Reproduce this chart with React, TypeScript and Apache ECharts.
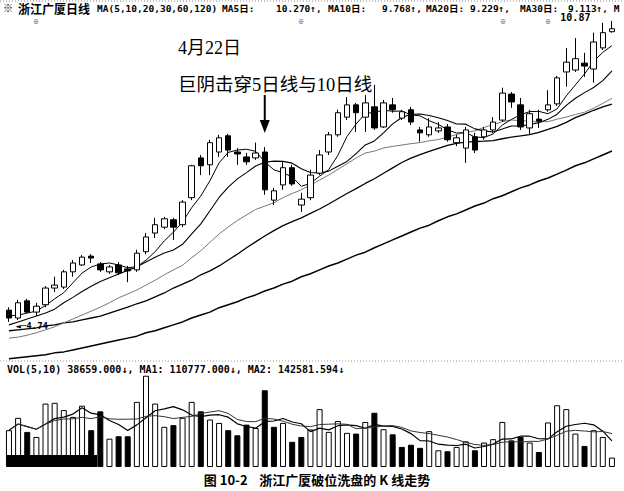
import React, { useEffect, useRef } from "react";
import * as echarts from "echarts";

// candles (price units)
const opens = [
  4.98, 4.82, 5.17, 4.94, 5.09, 5.43, 5.45, 5.76, 5.9, 6.08,
  5.92, 5.76, 5.9, 5.82, 5.8, 6.17, 6.55, 6.67, 6.82, 6.72,
  7.27, 8.08, 7.94, 8.2, 8.53, 8.2, 8.1, 8.08, 8.2, 7.22,
  7.53, 7.88, 7.12, 7.27, 7.77, 8.2, 8.55, 8.91, 9.16, 8.91,
  9.12, 8.71, 9.16, 8.89, 9.06, 8.65, 8.55, 8.63, 8.71, 8.39,
  8.28, 8.51, 8.51, 8.65, 8.85, 9.38, 9.16, 8.69, 8.87, 9.06,
  9.18, 9.83, 9.87, 10.01, 9.89, 10.32, 10.65,
];
const closes = [
  4.82, 5.13, 4.94, 5.06, 5.43, 5.49, 5.76, 5.94, 6.06, 6.04,
  5.8, 5.86, 5.74, 5.78, 6.14, 6.47, 6.72, 6.84, 6.67, 7.18,
  7.92, 7.92, 8.39, 8.49, 8.24, 8.16, 8.0, 8.18, 7.43, 7.41,
  7.88, 7.55, 7.24, 7.73, 8.14, 8.55, 9.0, 9.16, 9.0, 9.2,
  8.69, 9.2, 9.06, 9.02, 8.81, 8.59, 8.71, 8.69, 8.45, 8.49,
  8.65, 8.24, 8.65, 8.81, 9.4, 9.22, 8.71, 8.98, 8.83, 9.16,
  9.71, 10.03, 10.1, 9.95, 10.44, 10.63, 10.71,
];
const lows = [
  4.74, 4.78, 4.92, 4.86, 5.04, 5.35, 5.41, 5.66, 5.88, 5.94,
  5.76, 5.72, 5.7, 5.55, 5.76, 6.12, 6.45, 6.63, 6.41, 6.67,
  7.22, 7.73, 7.73, 8.1, 8.1, 7.94, 7.94, 8.04, 7.33, 7.12,
  7.43, 7.51, 6.98, 7.22, 7.73, 8.14, 8.51, 8.85, 8.61, 8.61,
  8.65, 8.69, 9.0, 8.85, 8.75, 8.41, 8.51, 8.59, 8.41, 8.32,
  7.98, 8.18, 8.45, 8.59, 8.81, 9.1, 8.65, 8.55, 8.69, 9.02,
  9.14, 9.53, 9.83, 9.73, 9.61, 10.28, 10.63,
];
const highs = [
  5.04, 5.19, 5.21, 5.13, 5.47, 5.66, 5.8, 6.0, 6.1, 6.12,
  5.96, 5.9, 5.96, 5.88, 6.21, 6.55, 6.86, 6.88, 6.86, 7.22,
  7.94, 8.14, 8.45, 8.55, 8.57, 8.28, 8.18, 8.39, 8.3, 7.47,
  8.0, 7.94, 7.37, 7.84, 8.24, 8.61, 9.06, 9.32, 9.2, 9.36,
  9.57, 9.26, 9.3, 9.06, 9.12, 8.71, 8.89, 8.81, 8.77, 8.55,
  8.71, 8.59, 8.71, 8.91, 9.51, 9.42, 9.3, 9.06, 9.06, 9.46,
  9.75, 10.32, 10.52, 10.22, 10.63, 10.83, 10.87,
];

// moving-average values where the window reaches before the first candle
const ma5Head = [4.86, 4.88, 4.92, 4.96];
const ma10Head = [4.68, 4.74, 4.8, 4.86, 4.92, 5.0, 5.13, 5.24, 5.36];
const ma20Head = [
  4.41, 4.43, 4.47, 4.52, 4.58, 4.64, 4.72, 4.8, 4.88, 4.96,
  5.04, 5.13, 5.23, 5.31, 5.39, 5.49, 5.59, 5.7, 5.8,
];
const ma30Head = [
  4.56, 4.58, 4.6, 4.62, 4.66, 4.68, 4.72, 4.74, 4.78, 4.82,
  4.86, 4.92, 4.98, 5.04, 5.11, 5.17, 5.25, 5.33, 5.43, 5.51,
  5.59, 5.7, 5.78, 5.88, 6.0, 6.12, 6.25, 6.37, 6.49,
];
const ma60 = [
  3.99, 4.01, 4.03, 4.05, 4.07, 4.11, 4.13, 4.17, 4.21, 4.25,
  4.29, 4.33, 4.37, 4.41, 4.45, 4.52, 4.56, 4.62, 4.68, 4.74,
  4.82, 4.88, 4.94, 5.03, 5.09, 5.15, 5.23, 5.29, 5.37, 5.43,
  5.51, 5.57, 5.66, 5.72, 5.8, 5.88, 5.94, 6.02, 6.1, 6.16,
  6.25, 6.33, 6.41, 6.49, 6.57, 6.65, 6.71, 6.8, 6.88, 6.94,
  7.02, 7.1, 7.16, 7.25, 7.31, 7.39, 7.47, 7.53, 7.61, 7.67,
  7.75, 7.83, 7.92, 7.98, 8.06, 8.14, 8.22,
];

const volumes = [
  152000, 203000, 145000, 124000, 262000, 265000, 235000, 207000, 253000, 152000,
  230000, 117000, 127000, 127000, 269000, 377000, 262000, 166000, 173000, 203000,
  269000, 230000, 196000, 182000, 152000, 131000, 175000, 161000, 317000, 166000,
  182000, 104000, 124000, 155000, 239000, 145000, 190000, 141000, 138000, 186000,
  224000, 156000, 135000, 83000, 92000, 79000, 148000, 69000, 65000, 83000,
  106000, 69000, 101000, 115000, 186000, 110000, 124000, 101000, 62000, 184000,
  255000, 239000, 138000, 87000, 152000, 124000, 38659,
];
// W = hollow bar, B = solid bar
const volumeColors =
  "WWBWWWWWWB" + "BWBBWWWWBW" + "WBWWBBBWBB" + "WBBWWWWWBW" +
  "BWBBBBWWBW" + "WBWWWBBWBW" + "WWWBWWW";

const days = closes.map((_, i) => `D${i + 1}`);

const movingAverage = (values: number[], n: number, head: number[]) =>
  values.map((_, i) => {
    if (i < n - 1) return head[i];
    let s = 0;
    for (let k = i - n + 1; k <= i; k++) s += values[k];
    return +(s / n).toFixed(3);
  });

const volumeAverage = (values: number[], n: number) =>
  values.map((_, i) => {
    const from = Math.max(0, i - n + 1);
    let s = 0;
    for (let k = from; k <= i; k++) s += values[k];
    return Math.round(s / (i - from + 1));
  });

const MONO = '"DejaVu Sans Mono", "Noto Sans CJK SC", monospace';
const CJK = '"Noto Sans CJK SC", sans-serif';
const SERIF = '"Liberation Serif", "Noto Sans CJK SC", serif';

const txt = (x: number, y: number, text: string, size: number, family = MONO, weight = "bold", align = "left") => ({
  type: "text",
  x,
  y,
  z: 100,
  style: {
    text,
    fill: "#000",
    fontSize: size,
    fontFamily: family,
    fontWeight: weight,
    align,
    verticalAlign: "middle",
  },
});

const App = () => {
  const chartRef = useRef<HTMLDivElement>(null);

  useEffect(() => {
    if (!chartRef.current) return;
    const chart = echarts.init(chartRef.current, null, { renderer: "svg" });

    const maLine = (name: string, data: number[], color: string, width: number) => ({
      name,
      type: "line",
      xAxisIndex: 0,
      yAxisIndex: 0,
      data,
      symbol: "none",
      silent: true,
      lineStyle: { color, width },
      z: 3,
    });

    const option = {
      animation: false,
      backgroundColor: "#fff",
      grid: [
        { left: 4.4, right: 7.5, top: 15, height: 347.2 },
        { left: 4.4, right: 7.5, top: 375, height: 92 },
      ],
      xAxis: [0, 1].map((g) => ({
        type: "category",
        gridIndex: g,
        data: days,
        boundaryGap: true,
        axisLine: { show: false },
        axisTick: { show: false },
        axisLabel: { show: false },
        splitLine: { show: false },
      })),
      yAxis: [
        { gridIndex: 0, type: "value", min: 3.92, max: 10.99, show: false, splitLine: { show: false } },
        { gridIndex: 1, type: "value", min: 0, max: 380000, show: false, splitLine: { show: false } },
      ],
      series: [
        maLine("MA60", ma60, "#000", 1.5),
        maLine("MA30", movingAverage(closes, 30, ma30Head), "#000", 1.3),
        maLine("MA20", movingAverage(closes, 20, ma20Head), "#777", 1),
        maLine("MA10", movingAverage(closes, 10, ma10Head), "#000", 1.1),
        maLine("MA5", movingAverage(closes, 5, ma5Head), "#000", 1),
        {
          name: "K",
          type: "candlestick",
          xAxisIndex: 0,
          yAxisIndex: 0,
          barWidth: 6,
          z: 5,
          data: closes.map((c, i) => [opens[i], c, lows[i], highs[i]]),
          itemStyle: {
            color: "#fff",
            color0: "#000",
            borderColor: "#000",
            borderColor0: "#000",
            borderWidth: 1,
          },
          markPoint: {
            silent: true,
            data: [
              {
                coord: [days[66], highs[66]],
                symbol: "circle",
                symbolSize: 1,
                itemStyle: { color: "rgba(0,0,0,0)" },
                label: {
                  show: true,
                  position: "left",
                  distance: 21,
                  offset: [0, -3],
                  formatter: "10.87",
                  color: "#000",
                  fontSize: 10,
                  fontFamily: MONO,
                  fontWeight: "bold",
                },
              },
              {
                coord: [days[0], lows[0]],
                symbol: "circle",
                symbolSize: 1,
                itemStyle: { color: "rgba(0,0,0,0)" },
                label: {
                  show: true,
                  position: "right",
                  distance: 6,
                  offset: [0, 4],
                  formatter: "◄─4.74",
                  color: "#000",
                  fontSize: 9,
                  fontFamily: MONO,
                  fontWeight: "bold",
                },
              },
              {
                coord: [days[28], highs[28]],
                symbol: "path://M4,0L6,0L6,25L10,25L5,38L0,25L4,25Z",
                symbolSize: [10, 38],
                symbolOffset: [0, -33],
                itemStyle: { color: "#000" },
                label: { show: false },
              },
            ],
          },
        },
        {
          name: "VOL",
          type: "bar",
          xAxisIndex: 1,
          yAxisIndex: 1,
          barWidth: 6,
          data: volumes.map((v, i) => ({
            value: v,
            itemStyle: {
              color: volumeColors[i] === "B" ? "#000" : "#fff",
              borderColor: "#000",
              borderWidth: 1,
            },
          })),
        },
        {
          name: "MA1",
          type: "line",
          xAxisIndex: 1,
          yAxisIndex: 1,
          data: volumeAverage(volumes, 5),
          symbol: "none",
          lineStyle: { color: "#000", width: 1.2 },
          z: 4,
        },
        {
          name: "MA2",
          type: "line",
          xAxisIndex: 1,
          yAxisIndex: 1,
          data: volumeAverage(volumes, 10),
          symbol: "none",
          lineStyle: { color: "#333", width: 1 },
          z: 4,
        },
      ],
      graphic: [
        {
          type: "line",
          z: 100,
          shape: { x1: 0, y1: 1, x2: 624, y2: 1 },
          style: { stroke: "#888", lineWidth: 1, lineDash: [1, 2] },
        },
        {
          type: "line",
          z: 100,
          shape: { x1: 0, y1: 361, x2: 624, y2: 361 },
          style: { stroke: "#999", lineWidth: 1, lineDash: [1, 2] },
        },
        {
          type: "rect",
          z: 100,
          shape: { x: 7, y: 455, width: 90, height: 12 },
          style: { fill: "#000" },
        },
        txt(3, 8, "※", 10),
        txt(18, 8, "浙江广厦日线", 12, CJK),
        txt(97, 8, "MA(5,10,20,30,60,120)", 9.5),
        txt(222, 8, "MA5日:", 9.5),
        txt(276, 8, "10.270↑,", 9.5),
        txt(328, 8, "MA10日:", 9.5),
        txt(382, 8, "9.768↑,", 9.5),
        txt(426, 8, "MA20日:", 9.5),
        txt(470, 8, "9.229↑,", 9.5),
        txt(520, 8, "MA30日:", 9.5),
        txt(568, 8, "9.113↑, M", 9.5),
        txt(33, 21, "※", 6),
        txt(298, 21, "※", 6),
        txt(500, 21, "※", 6),
        txt(545, 21, "※", 6),
        txt(7, 369, "VOL(5,10) 38659.000↓, MA1: 110777.000↓, MA2: 142581.594↓", 10),
        txt(178, 48, "4月22日", 18, SERIF, "normal"),
        txt(178, 85, "巨阴击穿5日线与10日线", 18.5, SERIF, "normal"),
        txt(317, 479, "图 10-2    浙江广厦破位洗盘的 K 线走势", 13, CJK, "bold", "center"),
      ],
    };

    chart.setOption(option);
    return () => chart.dispose();
  }, []);

  return (
    <div
      ref={chartRef}
      style={{ position: "absolute", left: 0, top: 0, width: "624px", height: "491px", background: "#fff" }}
    />
  );
};

export default App;
